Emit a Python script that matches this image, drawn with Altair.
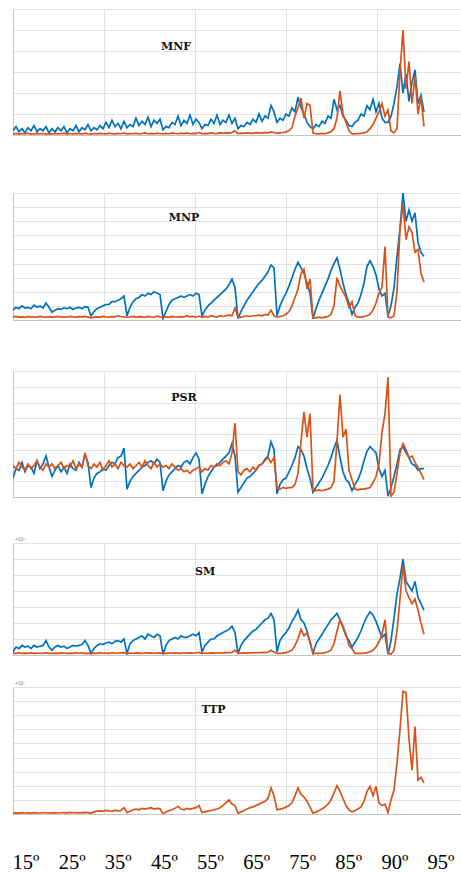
import altair as alt
import pandas as pd

# ---------------- data (in grid-line units) ----------------
mnf_blue = [0.2,0.4,0.15,0.3,0.1,0.35,0.2,0.45,0.15,0.3,0.2,0.4,0.1,
            0.3,0.15,0.35,0.2,0.4,0.1,0.3,0.2,0.45,0.15,0.35,0.25,0.5,
            0.2,0.35,0.25,0.45,0.3,0.6,0.35,0.7,0.4,0.55,0.3,0.65,
            0.35,0.5,0.4,0.8,0.45,0.65,0.5,0.85,0.4,0.7,0.55,0.75,
            0.25,0.4,0.35,0.6,0.5,0.9,0.45,0.7,0.55,0.95,0.5,0.75,0.6,
            0.3,0.5,0.45,0.75,0.55,0.95,0.5,0.7,0.6,0.95,0.55,0.8,
            0.3,0.45,0.4,0.6,0.5,0.75,0.6,1.0,0.65,0.9,0.8,1.4,1.1,
            0.6,0.8,0.7,1.0,0.9,1.3,1.1,1.8,1.3,1.0,0.6,0.4,
            0.3,0.5,0.4,0.65,0.55,0.9,0.8,1.7,1.2,1.4,0.9,0.7,0.45,
            0.4,0.6,0.7,1.0,0.9,1.4,1.2,1.7,1.1,1.5,0.8,0.6,
            0.6,0.9,1.5,2.3,3.4,2.0,2.9,1.6,2.5,3.1,1.5,1.9,1.1]
mnf_orange = [0.05,0.08,0.04,0.07,0.05,0.09,0.04,0.06,0.08,0.05,0.07,0.04,0.06,
              0.05,0.08,0.05,0.06,0.09,0.04,0.07,0.05,0.08,0.06,0.05,0.09,0.06,
              0.04,0.07,0.05,0.08,0.06,0.05,0.09,0.06,0.05,0.08,0.06,0.1,
              0.05,0.07,0.06,0.09,0.05,0.07,0.1,0.06,0.08,0.05,0.09,0.07,
              0.05,0.08,0.06,0.1,0.07,0.06,0.09,0.07,0.1,0.06,0.08,0.07,0.12,
              0.06,0.08,0.07,0.1,0.08,0.07,0.11,0.08,0.1,0.09,0.12,0.2,
              0.07,0.09,0.08,0.1,0.09,0.08,0.11,0.1,0.09,0.12,0.1,0.15,0.12,
              0.08,0.1,0.12,0.15,0.2,0.35,0.9,1.3,1.75,0.8,1.5,1.4,
              0.1,0.06,0.05,0.08,0.06,0.1,0.15,0.3,0.8,2.1,1.0,0.6,0.2,
              0.06,0.05,0.07,0.08,0.1,0.15,0.3,0.5,0.8,1.1,1.5,0.9,
              1.2,0.2,0.1,0.3,3.0,5.0,2.2,3.5,1.5,2.8,1.0,1.8,0.4]

mnp_blue = [0.7,0.9,0.8,1.0,0.85,0.9,0.8,1.05,0.9,1.0,0.85,1.2,0.9,
            0.55,0.7,0.8,0.75,0.85,0.8,0.9,0.75,0.85,0.9,0.8,0.95,0.9,
            0.3,0.6,0.8,0.9,1.0,1.1,1.1,1.3,1.3,1.4,1.5,1.7,
            0.3,0.9,1.3,1.5,1.6,1.8,1.7,1.9,1.8,2.0,1.9,1.8,
            0.1,0.6,1.1,1.4,1.5,1.6,1.7,1.6,1.7,1.8,1.7,1.9,1.8,
            0.3,0.7,1.0,1.2,1.4,1.6,1.8,2.0,2.2,2.5,2.9,2.3,
            0.1,0.6,1.0,1.4,1.7,2.0,2.3,2.6,2.8,3.1,3.4,3.9,3.7,
            0.3,1.0,1.5,1.9,2.4,3.0,3.6,4.1,3.7,3.3,2.6,1.9,
            0.1,0.8,1.4,1.9,2.4,2.9,3.5,4.0,4.4,3.6,2.6,1.8,1.2,
            0.4,0.9,1.2,1.8,2.6,3.8,4.2,3.8,3.2,2.2,1.7,1.9,
            0.3,1.0,2.3,4.5,6.5,9.0,7.0,7.8,7.0,7.6,5.5,4.8,4.5]
mnp_orange = [0.2,0.25,0.2,0.22,0.18,0.25,0.2,0.23,0.2,0.25,0.22,0.2,0.24,
              0.2,0.22,0.25,0.2,0.23,0.2,0.25,0.22,0.2,0.24,0.22,0.25,0.2,
              0.15,0.2,0.22,0.2,0.25,0.22,0.2,0.24,0.22,0.3,0.25,0.22,
              0.2,0.22,0.25,0.2,0.24,0.22,0.2,0.25,0.22,0.2,0.28,0.22,
              0.18,0.22,0.2,0.25,0.22,0.2,0.24,0.22,0.3,0.22,0.25,0.2,0.28,
              0.2,0.25,0.2,0.3,0.25,0.2,0.3,0.25,0.3,0.35,0.3,0.85,
              0.2,0.2,0.25,0.3,0.25,0.3,0.3,0.35,0.3,0.4,0.35,0.7,0.3,
              0.2,0.25,0.3,0.4,0.6,1.0,1.6,2.2,3.3,3.6,2.2,2.9,
              0.15,0.15,0.2,0.15,0.2,0.25,0.4,1.0,3.0,2.4,2.0,1.6,0.9,
              1.3,0.3,0.2,0.2,0.25,0.3,0.4,0.7,1.2,1.9,2.3,5.2,
              0.2,0.15,0.3,2.0,6.4,8.2,5.7,6.6,6.2,4.8,5.0,3.3,2.7]

psr_blue = [1.2,1.8,1.7,2.2,1.6,2.0,1.9,1.5,2.3,1.8,2.1,2.6,1.9,
            1.3,1.7,2.0,1.6,1.9,1.5,2.1,1.8,1.7,2.2,1.9,2.7,2.2,
            0.6,1.2,1.5,1.6,1.8,1.7,2.0,2.2,2.1,2.5,2.6,3.1,
            0.5,1.0,1.3,1.5,1.7,1.9,2.0,2.2,2.3,2.1,2.4,2.2,
            0.4,1.0,1.4,1.6,1.8,2.0,1.9,2.2,2.3,2.1,2.5,2.8,2.4,
            0.2,0.8,1.3,1.6,1.9,2.0,2.2,2.4,2.6,2.8,3.4,2.6,
            0.3,0.6,0.9,1.2,1.3,1.5,1.7,2.0,2.1,2.4,2.6,3.5,3.0,
            0.2,0.8,1.1,1.2,1.6,2.0,2.5,3.2,3.0,2.6,1.8,1.2,
            0.3,0.6,0.9,1.2,1.6,2.0,2.5,3.1,3.6,2.5,1.6,1.1,0.9,
            0.4,0.8,1.1,1.6,2.3,2.9,3.2,3.0,2.8,1.8,1.3,1.7,
            0.05,0.6,1.3,2.1,3.0,3.2,2.8,2.5,2.1,2.0,1.7,1.8,1.8]
psr_orange = [2.0,1.8,2.2,1.9,1.7,2.1,1.8,2.0,2.3,1.9,1.7,2.1,1.9,
              2.1,1.8,2.0,2.2,1.8,2.0,1.9,2.3,1.8,2.1,1.9,2.8,2.0,
              1.8,2.1,1.9,2.2,1.7,2.0,2.3,1.9,2.1,1.8,2.2,2.0,
              1.9,2.1,1.8,2.0,2.2,1.9,2.3,2.0,1.8,2.2,1.9,2.1,
              1.9,2.0,1.8,2.1,1.9,1.7,1.8,1.6,1.7,1.5,1.7,1.8,1.9,
              1.6,1.8,1.7,2.0,1.9,2.1,2.0,2.2,2.3,2.1,2.8,4.7,
              1.6,1.4,1.7,1.8,1.6,1.9,1.7,2.0,2.1,2.3,2.5,2.2,2.5,
              0.55,0.5,0.6,0.55,0.6,0.6,0.8,1.5,3.5,5.4,3.8,5.3,
              0.4,0.4,0.45,0.4,0.45,0.5,0.6,1.0,3.5,6.5,3.8,4.3,1.7,
              1.1,0.5,0.45,0.5,0.5,0.55,0.6,0.9,1.3,2.1,4.1,5.3,
              7.6,0.05,0.3,1.5,2.8,3.4,3.0,2.5,2.6,2.2,1.9,1.5,1.1]

sm_blue = [0.2,0.5,0.4,0.6,0.5,0.55,0.4,0.6,0.5,0.55,0.6,0.9,0.5,
           0.3,0.5,0.6,0.5,0.55,0.4,0.5,0.6,0.55,0.6,0.65,0.9,0.6,
           0.1,0.4,0.6,0.7,0.65,0.75,0.8,0.7,0.85,0.9,0.8,1.0,
           0.1,0.7,0.9,1.0,1.1,1.2,1.0,1.3,1.2,1.1,1.3,1.2,
           0.05,0.6,0.9,1.0,1.1,1.0,1.2,1.1,1.1,1.2,1.3,1.2,1.4,
           0.2,0.6,0.8,1.0,1.0,1.2,1.3,1.4,1.5,1.6,1.8,1.4,
           0.1,0.6,0.9,1.1,1.3,1.5,1.6,1.8,2.0,2.2,2.3,2.6,2.2,
           0.2,0.9,1.2,1.4,1.7,2.1,2.4,2.8,2.2,2.0,1.5,0.8,
           0.1,0.7,1.0,1.3,1.6,1.9,2.2,2.4,2.6,2.2,1.7,1.2,0.9,
           0.5,0.8,1.1,1.5,2.0,2.4,2.7,2.5,2.1,1.6,1.1,1.3,
           0.05,0.9,2.3,3.8,4.8,6.0,4.6,4.3,4.0,4.6,3.6,3.2,2.8]
sm_orange = [0.12,0.1,0.14,0.1,0.12,0.1,0.13,0.1,0.12,0.11,0.1,0.13,0.1,
             0.1,0.12,0.1,0.13,0.11,0.1,0.12,0.1,0.13,0.11,0.12,0.1,0.12,
             0.08,0.12,0.1,0.13,0.11,0.12,0.1,0.14,0.12,0.11,0.13,0.15,
             0.1,0.12,0.11,0.13,0.12,0.1,0.14,0.12,0.13,0.11,0.12,0.13,
             0.08,0.1,0.12,0.11,0.13,0.12,0.1,0.14,0.12,0.13,0.11,0.14,0.15,
             0.1,0.12,0.11,0.13,0.12,0.14,0.12,0.13,0.15,0.14,0.16,0.3,
             0.1,0.12,0.13,0.12,0.14,0.13,0.15,0.14,0.16,0.15,0.17,0.3,0.18,
             0.1,0.1,0.12,0.15,0.2,0.3,0.6,1.0,1.6,1.2,1.4,0.8,
             0.1,0.1,0.1,0.12,0.15,0.2,0.3,0.7,1.5,2.2,1.8,1.3,0.6,
             0.4,0.1,0.1,0.1,0.12,0.15,0.2,0.3,0.5,0.8,1.3,2.2,
             0.1,0.05,0.3,1.5,3.5,5.6,4.0,3.6,3.2,3.5,2.8,2.0,1.3]

ttp_orange = [0.05,0.08,0.06,0.1,0.07,0.09,0.06,0.1,0.08,0.07,0.1,0.09,0.08,
              0.08,0.1,0.07,0.09,0.1,0.08,0.11,0.09,0.1,0.08,0.1,0.12,0.1,
              0.05,0.15,0.2,0.22,0.2,0.25,0.22,0.2,0.25,0.22,0.25,0.45,
              0.1,0.2,0.3,0.35,0.3,0.4,0.35,0.4,0.45,0.35,0.4,0.38,
              0.02,0.15,0.25,0.3,0.4,0.55,0.35,0.3,0.4,0.35,0.4,0.45,0.6,
              0.1,0.15,0.2,0.25,0.3,0.35,0.45,0.6,0.8,1.0,0.7,0.6,
              0.05,0.15,0.25,0.35,0.45,0.5,0.6,0.7,0.8,0.9,1.1,1.85,1.3,
              0.3,0.35,0.4,0.5,0.6,0.8,1.3,1.85,1.4,1.2,0.9,0.5,
              0.05,0.15,0.25,0.35,0.5,0.7,1.0,1.5,2.0,1.6,1.1,0.6,0.3,
              0.15,0.25,0.35,0.5,0.9,1.6,1.95,1.3,1.95,0.8,0.6,0.7,
              0.1,1.0,1.7,3.6,6.0,8.7,8.6,5.3,3.1,6.2,2.4,2.6,2.2]

panel_names = ["MNF", "MNP", "PSR", "SM", "TTP"]
angle_labels = ["15º", "25º", "35º", "45º", "55º", "65º", "75º", "85º", "90º", "95º"]

N = len(mnf_blue)
for s in [mnf_blue, mnf_orange, mnp_blue, mnp_orange, psr_blue, psr_orange,
          sm_blue, sm_orange, ttp_orange]:
    assert len(s) == N, len(s)

# ---------------- styling / layout ----------------
BLUE = "#0072BD"
ORANGE = "#D95319"
W = 448
XMAX = W / 3.0
XGRID = [0, 91 / 3.0, 182 / 3.0, 273 / 3.0, 364 / 3.0]


def panel(name, blue, orange, ymax, h, tx, ty, exp=None):
    xenc = alt.X("i:Q", scale=alt.Scale(domain=[0, XMAX], nice=False, zero=False),
                 axis=alt.Axis(values=XGRID, labels=False, ticks=False, title=None,
                               grid=True, domain=True))
    yenc = alt.Y("v:Q", scale=alt.Scale(domain=[0, ymax], nice=False, zero=True),
                 axis=alt.Axis(values=list(range(ymax + 1)), labels=False, ticks=False,
                               title=None, grid=True, domain=True))
    layers = []
    if blue is not None:
        dfb = pd.DataFrame({"i": list(range(N)), "v": blue})
        layers.append(alt.Chart(dfb).mark_line(color=BLUE, strokeWidth=1.7, clip=True)
                      .encode(x=xenc, y=yenc))
    dfo = pd.DataFrame({"i": list(range(N)), "v": orange})
    layers.append(alt.Chart(dfo).mark_line(color=ORANGE, strokeWidth=1.7, clip=True)
                  .encode(x=xenc, y=yenc))
    dft = pd.DataFrame({"i": [tx], "v": [ty], "t": [name]})
    layers.append(alt.Chart(dft).mark_text(font="DejaVu Serif", fontWeight="bold",
                                           fontSize=11, color="#111", baseline="middle",
                                           align="center")
                  .encode(x=xenc, y=yenc, text="t:N"))
    if exp:
        dfe = pd.DataFrame({"t": [exp]})
        layers.append(alt.Chart(dfe).mark_text(fontSize=5, color="#888", align="left",
                                               baseline="bottom")
                      .encode(x=alt.value(2), y=alt.value(-1), text="t:N"))
    return alt.layer(*layers).properties(width=W, height=h)


def spacer(h):
    return (alt.Chart(pd.DataFrame({"s": [0]}))
            .mark_text(text="")
            .encode(x=alt.value(0), y=alt.value(0))
            .properties(width=W, height=h))


p1 = panel(panel_names[0], mnf_blue, mnf_orange, 6, 126, 163 / 3.0, 4.2)
p2 = panel(panel_names[1], mnp_blue, mnp_orange, 9, 127, 171 / 3.0, 7.2)
p3 = panel(panel_names[2], psr_blue, psr_orange, 8, 126, 171 / 3.0, 6.3)
p4 = panel(panel_names[3], sm_blue, sm_orange, 7, 112, 192 / 3.0, 5.2, exp="×10⁵")
p5 = panel(panel_names[4], None, ttp_orange, 9, 127, 200.5 / 3.0, 7.35, exp="×10⁷")

bottom = (alt.Chart(pd.DataFrame({"lab": angle_labels}))
          .mark_text(font="Liberation Serif", fontSize=20.5, color="#000",
                     baseline="alphabetic", align="center")
          .encode(x=alt.X("lab:N", sort=None, axis=None,
                          scale=alt.Scale(range=[13, 428], padding=0)),
                  y=alt.value(55), text="lab:N")
          .properties(width=W, height=50))

chart = (alt.vconcat(p1, spacer(58), p2, spacer(51), p3, spacer(46), p4, spacer(32), p5,
                     bottom, spacing=0, bounds="flush")
         .properties(padding={"left": 12, "top": 9, "right": 0, "bottom": 0})
         .configure_view(stroke=None)
         .configure_axis(gridColor="#e2e2e2", gridWidth=1, domainColor="#c4c4c4",
                         domainWidth=1))

chart.save("out.html", embed_options={"renderer": "svg", "actions": False})
